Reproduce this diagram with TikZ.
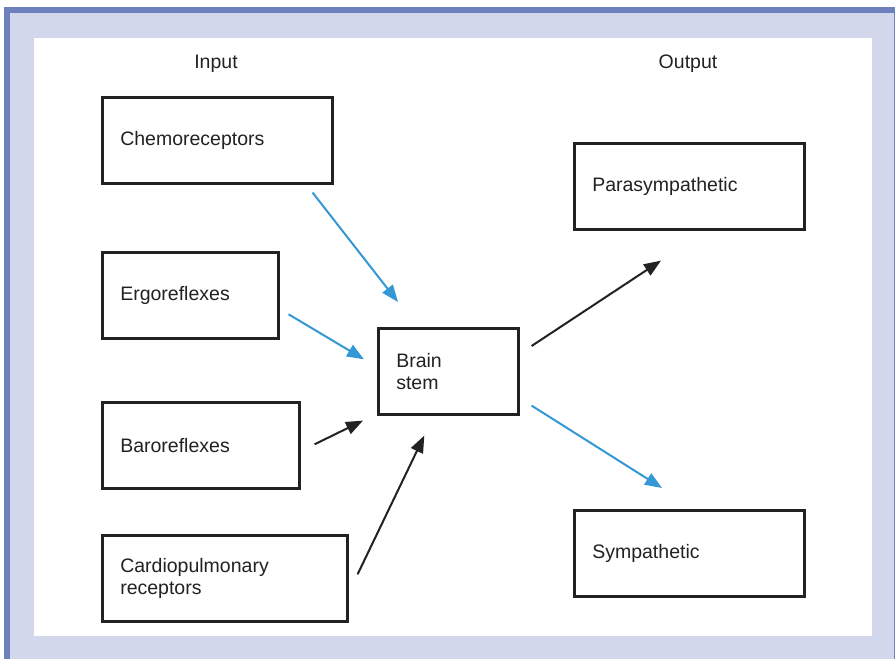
\documentclass[tikz,border=0pt]{standalone}
\usepackage{fontspec}
\setmainfont{Liberation Sans}
\usetikzlibrary{arrows.meta}
\definecolor{frameblue}{RGB}{108,128,190}
\definecolor{framefill}{RGB}{210,215,235}
\definecolor{arrowblue}{RGB}{52,152,214}
\definecolor{inkgray}{RGB}{34,34,34}

\begin{document}
\begin{tikzpicture}[x=1pt,y=-1pt,
  box/.style={draw=inkgray, line width=2.6pt, anchor=north west, align=left,
    inner xsep=18pt, inner ysep=0pt, minimum height=86pt, text width=#1, text=inkgray,
    font=\fontsize{19.5}{22}\selectfont},
  heading/.style={text=inkgray, font=\fontsize{19.5}{22}\selectfont},
  bluearrow/.style={-{Triangle[length=17pt,width=13pt]}, line width=2pt, arrowblue},
  blackarrow/.style={-{Triangle[length=17pt,width=13pt]}, line width=2pt, inkgray}]
  \useasboundingbox (0,0) rectangle (896,659);
  % frame
  \fill[framefill] (4,7) rectangle (895,659);
  \fill[frameblue] (4,7) rectangle (895,12.5);
  \fill[frameblue] (4,7) rectangle (10,659);
  \draw[frameblue, line width=1pt] (894.5,7) -- (894.5,659);
  \fill[white] (34,37.5) rectangle (872,635.5);
  % headings
  \node[heading] (input) at (216,64) {Input};
  \node[heading] (output) at (688,64) {Output};
  % inputs
  \node[box=194pt] (chemo) at (101,96) {Chemoreceptors};
  \node[box=140pt] (ergo) at (101,251) {Ergoreflexes};
  \node[box=161pt] (baro) at (101,401) {Baroreflexes};
  \node[box=209pt] (cardio) at (101,534) {Cardiopulmonary\\receptors};
  % centre
  \node[box=104pt] (brain) at (377,327) {Brain\\stem};
  % outputs
  \node[box=194pt] (para) at (573,142) {Parasympathetic};
  \node[box=194pt] (symp) at (573,509) {Sympathetic};
  % arrows
  \draw[bluearrow] ([xshift=-21pt,yshift=-8pt]chemo.south east) -- ([xshift=21pt,yshift=25pt]brain.north west);
  \draw[bluearrow] ([xshift=9pt,yshift=-19pt]ergo.east) -- ([xshift=-13pt,yshift=12pt]brain.west);
  \draw[blackarrow] ([xshift=14pt,yshift=1pt]baro.east) -- ([xshift=-14pt,yshift=-5pt]brain.south west);
  \draw[blackarrow] ([xshift=9pt,yshift=4pt]cardio.east) -- ([xshift=-24pt,yshift=-20pt]brain.south);
  \draw[blackarrow] ([xshift=12pt,yshift=-19pt]brain.north east) -- ([xshift=88pt,yshift=-30pt]para.south west);
  \draw[bluearrow] ([xshift=12pt,yshift=10pt]brain.south east) -- ([xshift=89pt,yshift=21pt]symp.north west);
\end{tikzpicture}
\end{document}
